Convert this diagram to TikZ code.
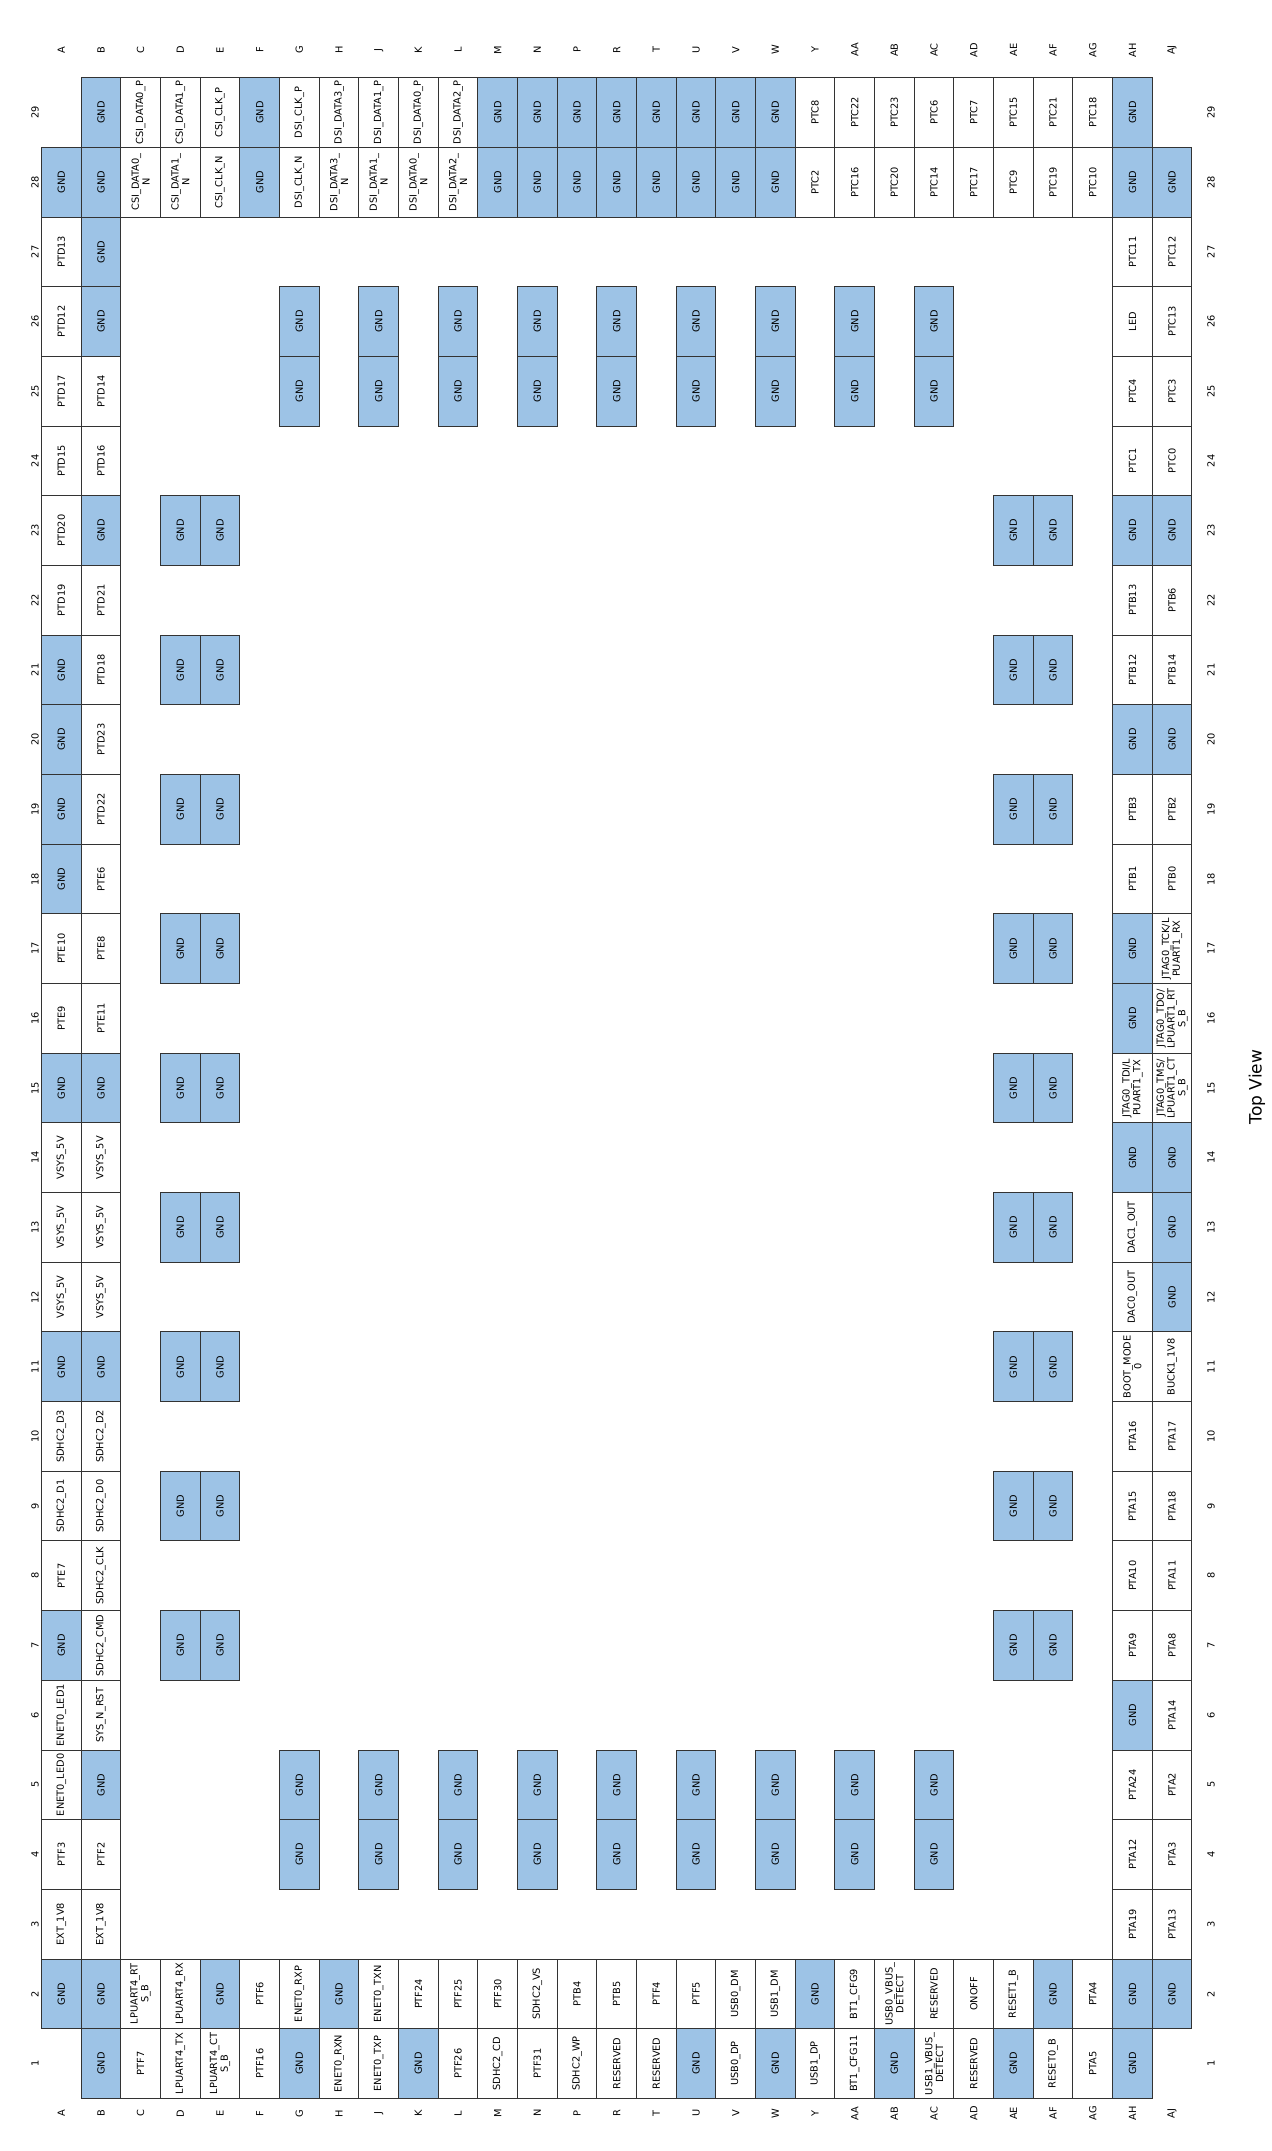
\documentclass[tikz,border=0pt]{standalone}
\usepackage{fontspec}
\setmainfont{DejaVu Sans}
\definecolor{gblue}{HTML}{9DC3E6}
\tikzset{
  pcell/.style={draw=black!80, line width=1pt, fill=white, rotate=90,
    minimum width=69.68pt, minimum height=39.67pt, inner sep=0.5pt, outer sep=0pt,
    align=center, font=\fontsize{9.8}{10.8}\selectfont},
  gcell/.style={pcell, fill=gblue},
  axlbl/.style={rotate=90, inner sep=0pt, font=\fontsize{9.8}{11}\selectfont},
  topview/.style={rotate=90, inner sep=0pt, font=\fontsize{17}{20}\selectfont}
}
\newcommand\pc[3]{\node[pcell] (p#1-#2) at ({41.5+(#1+0.5)*39.67},{-77.7-(29.5-#2)*69.68}) {#3};}
\newcommand\gc[2]{\node[gcell] (p#1-#2) at ({41.5+(#1+0.5)*39.67},{-77.7-(29.5-#2)*69.68}) {GND};}
\begin{document}
\begin{tikzpicture}[x=1pt,y=1pt]
\useasboundingbox (0,0) rectangle (1271,-2151);
% column letters
\foreach \l [count=\i from 0] in {A,B,C,D,E,F,G,H,J,K,L,M,N,P,R,T,U,V,W,Y,AA,AB,AC,AD,AE,AF,AG,AH,AJ}{
  \node[axlbl] (ct\i) at ({41.5+(\i+0.5)*39.67},-50) {\l};
  \node[axlbl] (cb\i) at ({41.5+(\i+0.5)*39.67},-2113.3) {\l};
}
% row numbers
\foreach \r in {1,...,29}{
  \node[axlbl] (rl\r) at (35,{-77.7-(29.5-\r)*69.68}) {\r};
  \node[axlbl] (rr\r) at (1211,{-77.7-(29.5-\r)*69.68}) {\r};
}
% column A
\gc{0}{28}\pc{0}{27}{PTD13}\pc{0}{26}{PTD12}\pc{0}{25}{PTD17}\pc{0}{24}{PTD15}
\pc{0}{23}{PTD20}\pc{0}{22}{PTD19}\gc{0}{21}\gc{0}{20}\gc{0}{19}\gc{0}{18}
\pc{0}{17}{PTE10}\pc{0}{16}{PTE9}\gc{0}{15}\pc{0}{14}{VSYS\_5V}\pc{0}{13}{VSYS\_5V}
\pc{0}{12}{VSYS\_5V}\gc{0}{11}\pc{0}{10}{SDHC2\_D3}\pc{0}{9}{SDHC2\_D1}\pc{0}{8}{PTE7}
\gc{0}{7}\pc{0}{6}{ENET0\_LED1}\pc{0}{5}{ENET0\_LED0}\pc{0}{4}{PTF3}\pc{0}{3}{EXT\_1V8}\gc{0}{2}
% column B
\gc{1}{29}\gc{1}{28}\gc{1}{27}\gc{1}{26}\pc{1}{25}{PTD14}\pc{1}{24}{PTD16}\gc{1}{23}
\pc{1}{22}{PTD21}\pc{1}{21}{PTD18}\pc{1}{20}{PTD23}\pc{1}{19}{PTD22}\pc{1}{18}{PTE6}
\pc{1}{17}{PTE8}\pc{1}{16}{PTE11}\gc{1}{15}\pc{1}{14}{VSYS\_5V}\pc{1}{13}{VSYS\_5V}
\pc{1}{12}{VSYS\_5V}\gc{1}{11}\pc{1}{10}{SDHC2\_D2}\pc{1}{9}{SDHC2\_D0}\pc{1}{8}{SDHC2\_CLK}
\pc{1}{7}{SDHC2\_CMD}\pc{1}{6}{SYS\_N\_RST}\gc{1}{5}\pc{1}{4}{PTF2}\pc{1}{3}{EXT\_1V8}\gc{1}{2}\gc{1}{1}
% top and bottom rows, columns C..AG
\pc{2}{29}{CSI\_DATA0\_P}\pc{2}{28}{CSI\_DATA0\_\\N}\pc{2}{2}{LPUART4\_RT\\S\_B}\pc{2}{1}{PTF7}
\pc{3}{29}{CSI\_DATA1\_P}\pc{3}{28}{CSI\_DATA1\_\\N}\pc{3}{2}{LPUART4\_RX}\pc{3}{1}{LPUART4\_TX}
\pc{4}{29}{CSI\_CLK\_P}\pc{4}{28}{CSI\_CLK\_N}\gc{4}{2}\pc{4}{1}{LPUART4\_CT\\S\_B}
\gc{5}{29}\gc{5}{28}\pc{5}{2}{PTF6}\pc{5}{1}{PTF16}
\pc{6}{29}{DSI\_CLK\_P}\pc{6}{28}{DSI\_CLK\_N}\pc{6}{2}{ENET0\_RXP}\gc{6}{1}
\pc{7}{29}{DSI\_DATA3\_P}\pc{7}{28}{DSI\_DATA3\_\\N}\gc{7}{2}\pc{7}{1}{ENET0\_RXN}
\pc{8}{29}{DSI\_DATA1\_P}\pc{8}{28}{DSI\_DATA1\_\\N}\pc{8}{2}{ENET0\_TXN}\pc{8}{1}{ENET0\_TXP}
\pc{9}{29}{DSI\_DATA0\_P}\pc{9}{28}{DSI\_DATA0\_\\N}\pc{9}{2}{PTF24}\gc{9}{1}
\pc{10}{29}{DSI\_DATA2\_P}\pc{10}{28}{DSI\_DATA2\_\\N}\pc{10}{2}{PTF25}\pc{10}{1}{PTF26}
\gc{11}{29}\gc{11}{28}\pc{11}{2}{PTF30}\pc{11}{1}{SDHC2\_CD}
\gc{12}{29}\gc{12}{28}\pc{12}{2}{SDHC2\_VS}\pc{12}{1}{PTF31}
\gc{13}{29}\gc{13}{28}\pc{13}{2}{PTB4}\pc{13}{1}{SDHC2\_WP}
\gc{14}{29}\gc{14}{28}\pc{14}{2}{PTB5}\pc{14}{1}{RESERVED}
\gc{15}{29}\gc{15}{28}\pc{15}{2}{PTF4}\pc{15}{1}{RESERVED}
\gc{16}{29}\gc{16}{28}\pc{16}{2}{PTF5}\gc{16}{1}
\gc{17}{29}\gc{17}{28}\pc{17}{2}{USB0\_DM}\pc{17}{1}{USB0\_DP}
\gc{18}{29}\gc{18}{28}\pc{18}{2}{USB1\_DM}\gc{18}{1}
\pc{19}{29}{PTC8}\pc{19}{28}{PTC2}\gc{19}{2}\pc{19}{1}{USB1\_DP}
\pc{20}{29}{PTC22}\pc{20}{28}{PTC16}\pc{20}{2}{BT1\_CFG9}\pc{20}{1}{BT1\_CFG11}
\pc{21}{29}{PTC23}\pc{21}{28}{PTC20}\pc{21}{2}{USB0\_VBUS\_\\DETECT}\gc{21}{1}
\pc{22}{29}{PTC6}\pc{22}{28}{PTC14}\pc{22}{2}{RESERVED}\pc{22}{1}{USB1\_VBUS\_\\DETECT}
\pc{23}{29}{PTC7}\pc{23}{28}{PTC17}\pc{23}{2}{ONOFF}\pc{23}{1}{RESERVED}
\pc{24}{29}{PTC15}\pc{24}{28}{PTC9}\pc{24}{2}{RESET1\_B}\gc{24}{1}
\pc{25}{29}{PTC21}\pc{25}{28}{PTC19}\gc{25}{2}\pc{25}{1}{RESET0\_B}
\pc{26}{29}{PTC18}\pc{26}{28}{PTC10}\pc{26}{2}{PTA4}\pc{26}{1}{PTA5}
% column AH
\gc{27}{29}\gc{27}{28}\pc{27}{27}{PTC11}\pc{27}{26}{LED}\pc{27}{25}{PTC4}\pc{27}{24}{PTC1}
\gc{27}{23}\pc{27}{22}{PTB13}\pc{27}{21}{PTB12}\gc{27}{20}\pc{27}{19}{PTB3}\pc{27}{18}{PTB1}
\gc{27}{17}\gc{27}{16}\pc{27}{15}{JTAG0\_TDI/L\\PUART1\_TX}\gc{27}{14}\pc{27}{13}{DAC1\_OUT}
\pc{27}{12}{DAC0\_OUT}\pc{27}{11}{BOOT\_MODE\\0}\pc{27}{10}{PTA16}\pc{27}{9}{PTA15}
\pc{27}{8}{PTA10}\pc{27}{7}{PTA9}\gc{27}{6}\pc{27}{5}{PTA24}\pc{27}{4}{PTA12}\pc{27}{3}{PTA19}
\gc{27}{2}\gc{27}{1}
% column AJ
\gc{28}{28}\pc{28}{27}{PTC12}\pc{28}{26}{PTC13}\pc{28}{25}{PTC3}\pc{28}{24}{PTC0}\gc{28}{23}
\pc{28}{22}{PTB6}\pc{28}{21}{PTB14}\gc{28}{20}\pc{28}{19}{PTB2}\pc{28}{18}{PTB0}
\pc{28}{17}{JTAG0\_TCK/L\\PUART1\_RX}\pc{28}{16}{JTAG0\_TDO/\\LPUART1\_RT\\S\_B}
\pc{28}{15}{JTAG0\_TMS/\\LPUART1\_CT\\S\_B}\gc{28}{14}\gc{28}{13}\gc{28}{12}
\pc{28}{11}{BUCK1\_1V8}\pc{28}{10}{PTA17}\pc{28}{9}{PTA18}\pc{28}{8}{PTA11}\pc{28}{7}{PTA8}
\pc{28}{6}{PTA14}\pc{28}{5}{PTA2}\pc{28}{4}{PTA3}\pc{28}{3}{PTA13}\gc{28}{2}
% interior ground pads
\foreach \c in {3,4,24,25}{\foreach \r in {7,9,...,23}{\gc{\c}{\r}}}
\foreach \c in {6,8,10,12,14,16,18,20,22}{\foreach \r in {4,5,25,26}{\gc{\c}{\r}}}
% label
\node[topview] (tv) at (1257,-1087) {Top View};
\end{tikzpicture}
\end{document}
